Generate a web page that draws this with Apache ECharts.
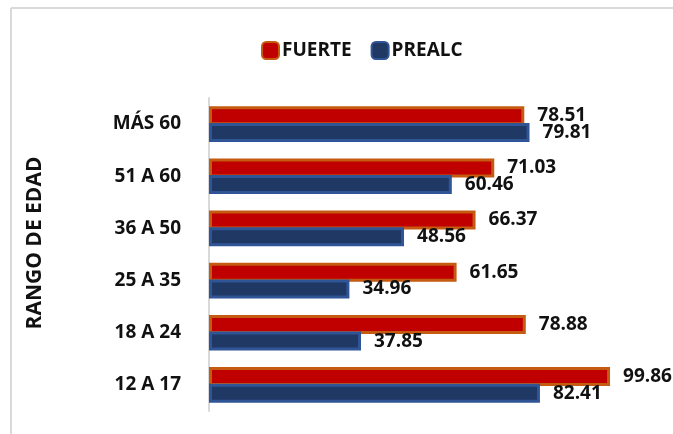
<!DOCTYPE html>
<html>
<head>
<meta charset="utf-8">
<script src="https://cdn.jsdelivr.net/npm/echarts@6/dist/echarts.min.js"></script>
<style>
html,body{margin:0;padding:0;background:#fff;}
#chart{width:673px;height:434px;}
</style>
</head>
<body>
<div id="chart"></div>
<script>
// Categories from top to bottom
var categories = ['MÁS 60', '51 A 60', '36 A 50', '25 A 35', '18 A 24', '12 A 17'];
var seriesNames = ['FUERTE', 'PREALC'];
var fuerte = [78.51, 71.03, 66.37, 61.65, 78.88, 99.86];
var prealc = [79.81, 60.46, 48.56, 34.96, 37.85, 82.41];
var axisTitle = 'RANGO DE EDAD';

var chart = echarts.init(document.getElementById('chart'), null, {renderer: 'canvas'});
var labelStyle = {
  show: true,
  position: 'right',
  distance: 13,
  fontFamily: 'Open Sans',
  fontWeight: 'bold',
  fontSize: 19,
  color: '#111',
  formatter: function (p) { return p.value.toFixed(2); }
};
chart.setOption({
  animation: false,
  backgroundColor: '#fff',
  legend: {
    top: 36,
    left: 256,
    itemWidth: 17,
    itemHeight: 17,
    itemGap: 19,
    icon: 'roundRect',
    textStyle: {fontFamily: 'Open Sans', fontWeight: 'bold', fontSize: 19, color: '#111', padding: [0, 0, 0, -2]},
    data: seriesNames
  },
  grid: {left: 209, top: 98, width: 401.6, height: 313},
  xAxis: {
    type: 'value', min: 0, max: 100, show: false,
    splitLine: {show: false}
  },
  yAxis: {
    type: 'category',
    inverse: true,
    data: categories,
    axisLine: {show: true, lineStyle: {color: '#D9D9D9', width: 2}},
    axisTick: {show: false},
    axisLabel: {
      margin: 28,
      fontFamily: 'Open Sans',
      fontWeight: 'bold',
      fontSize: 19,
      color: '#111'
    }
  },
  series: [
    {
      name: seriesNames[0], type: 'bar', data: fuerte,
      barWidth: 19, barGap: '-12%',
      itemStyle: {color: '#C00000', borderColor: '#C55A11', borderWidth: 3},
      label: labelStyle
    },
    {
      name: seriesNames[1], type: 'bar', data: prealc,
      barWidth: 19,
      itemStyle: {color: '#203864', borderColor: '#2F5597', borderWidth: 3},
      label: labelStyle
    }
  ],
  graphic: [
    {type: 'line', shape: {x1: 11, y1: 8, x2: 673, y2: 8}, style: {stroke: '#D9D9D9', lineWidth: 2}, silent: true},
    {type: 'line', shape: {x1: 11, y1: 8, x2: 11, y2: 434}, style: {stroke: '#D9D9D9', lineWidth: 2}, silent: true},
    {
      type: 'text', x: 35, y: 243, rotation: Math.PI / 2,
      style: {text: axisTitle, fontFamily: 'Open Sans', fontWeight: 'bold', fontSize: 21, fill: '#111', align: 'center', verticalAlign: 'middle'}
    }
  ]
});
</script>
</body>
</html>
